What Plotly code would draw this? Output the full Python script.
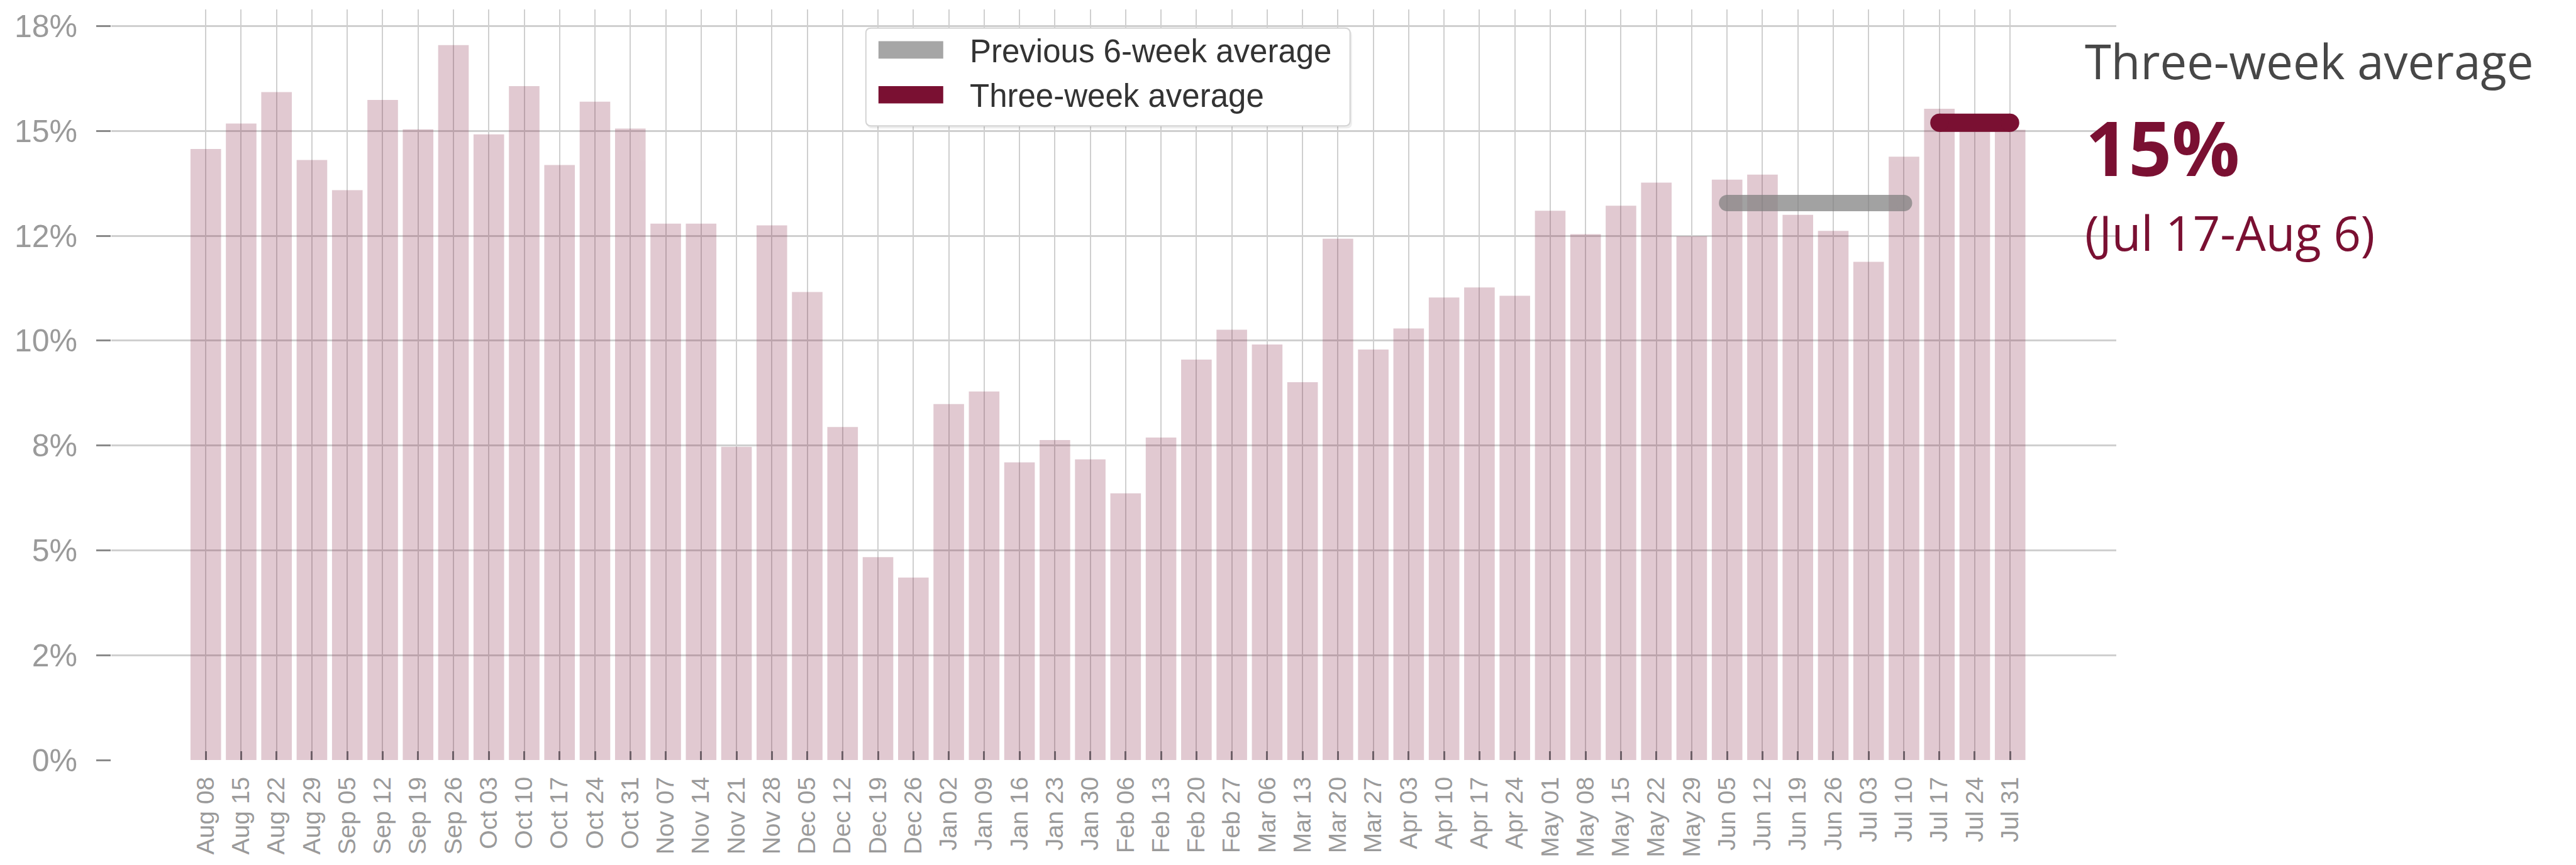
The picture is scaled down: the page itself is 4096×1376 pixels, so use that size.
import plotly.graph_objects as go

# ---------------- data ----------------
weeks = ["Aug 08", "Aug 15", "Aug 22", "Aug 29", "Sep 05", "Sep 12", "Sep 19", "Sep 26",
         "Oct 03", "Oct 10", "Oct 17", "Oct 24", "Oct 31", "Nov 07", "Nov 14", "Nov 21",
         "Nov 28", "Dec 05", "Dec 12", "Dec 19", "Dec 26", "Jan 02", "Jan 09", "Jan 16",
         "Jan 23", "Jan 30", "Feb 06", "Feb 13", "Feb 20", "Feb 27", "Mar 06", "Mar 13",
         "Mar 20", "Mar 27", "Apr 03", "Apr 10", "Apr 17", "Apr 24", "May 01", "May 08",
         "May 15", "May 22", "May 29", "Jun 05", "Jun 12", "Jun 19", "Jun 26", "Jul 03",
         "Jul 10", "Jul 17", "Jul 24", "Jul 31"]
share = [14.57, 15.18, 15.93, 14.31, 13.59, 15.74, 15.04, 17.05,
         14.92, 16.07, 14.19, 15.70, 15.06, 12.79, 12.79, 7.47,
         12.75, 11.16, 7.94, 4.84, 4.35, 8.49, 8.79, 7.10,
         7.63, 7.17, 6.36, 7.69, 9.55, 10.26, 9.91, 9.01,
         12.43, 9.79, 10.29, 11.03, 11.27, 11.07, 13.10, 12.54,
         13.22, 13.77, 12.49, 13.84, 13.96, 13.00, 12.62, 11.88,
         14.39, 15.53, 15.03, 15.03]
prev_weeks = weeks[43:49]      # Jun 05 .. Jul 10
prev_vals = share[43:49]
recent_weeks = weeks[49:52]    # Jul 17 .. Jul 31
recent_vals = share[49:52]
prev_avg = sum(prev_vals) / len(prev_vals)
recent_avg = sum(recent_vals) / len(recent_vals)

y_tickvals = [0, 2.5, 5, 7.5, 10, 12.5, 15, 17.5]
y_ticktext = ["0%", "2%", "5%", "8%", "10%", "12%", "15%", "18%"]

legend_labels = ["Previous 6-week average", "Three-week average"]
side_title = "Three-week average"
side_value = "15%"
side_period = "(Jul 17-Aug 6)"

# ---------------- styling / layout geometry ----------------
MAROON = "#7a1032"
FIG_W, FIG_H = 4096, 1376
L, R, T, B = 177, 3365.5, 15, 1220
W, H = R - L, B - T


def px(x):
    return (x - L) / W


def py(y):
    return (B - y) / H


fig = go.Figure()

fig.add_trace(go.Bar(
    x=weeks, y=share,
    marker=dict(color=MAROON, line=dict(width=0)),
    opacity=0.22,
    width=0.864,
    showlegend=False,
    hoverinfo="x+y",
))

fig.add_trace(go.Scatter(
    x=[prev_weeks[0], prev_weeks[-1]], y=[prev_avg, prev_avg],
    mode="lines+markers",
    line=dict(color="#7f7f7f", width=26),
    marker=dict(color="#7f7f7f", size=26, line=dict(width=0)),
    opacity=0.72,
    showlegend=False,
))

fig.add_trace(go.Scatter(
    x=[recent_weeks[0], recent_weeks[-1]], y=[recent_avg, recent_avg],
    mode="lines+markers",
    line=dict(color=MAROON, width=29),
    marker=dict(color=MAROON, size=29, line=dict(width=0)),
    showlegend=False,
))

# ---------------- custom legend ----------------
def rounded_rect(x0, y0, x1, y1, r):
    rx = r / W
    ry = r / H
    X0, X1 = px(x0), px(x1)
    Y0, Y1 = py(y0), py(y1)  # Y0 top (larger), Y1 bottom
    return (f"M {X0+rx},{Y0} L {X1-rx},{Y0} Q {X1},{Y0} {X1},{Y0-ry} "
            f"L {X1},{Y1+ry} Q {X1},{Y1} {X1-rx},{Y1} "
            f"L {X0+rx},{Y1} Q {X0},{Y1} {X0},{Y1+ry} "
            f"L {X0},{Y0-ry} Q {X0},{Y0} {X0+rx},{Y0} Z")


shapes = []
# shadow
shapes.append(dict(type="path", xref="paper", yref="paper",
                   path=rounded_rect(1379, 48, 2150, 206, 8),
                   fillcolor="rgba(0,0,0,0.07)", line=dict(width=0), layer="above"))
shapes.append(dict(type="path", xref="paper", yref="paper",
                   path=rounded_rect(1377, 45, 2147, 202, 8),
                   fillcolor="white", line=dict(color="#d4d4d4", width=2), layer="above"))
shapes.append(dict(type="rect", xref="paper", yref="paper",
                   x0=px(1397), x1=px(1500), y0=py(94), y1=py(66),
                   fillcolor="#a6a6a6", line=dict(width=0), layer="above"))
shapes.append(dict(type="rect", xref="paper", yref="paper",
                   x0=px(1397), x1=px(1500), y0=py(166), y1=py(138),
                   fillcolor=MAROON, line=dict(width=0), layer="above"))

annotations = []
for label, yc in zip(legend_labels, [82, 154]):
    annotations.append(dict(
        x=px(1540), y=py(yc), xref="paper", yref="paper",
        xanchor="left", yanchor="middle", showarrow=False,
        text=label, font=dict(family="Liberation Sans, Arial", size=51, color="#333333")))

# ---------------- side annotation ----------------
annotations.append(dict(
    x=px(3313), y=py(97), xref="paper", yref="paper",
    xanchor="left", yanchor="middle", showarrow=False,
    text=side_title, font=dict(family="Open Sans", size=76, color="#474747")))
annotations.append(dict(
    x=px(3314), y=py(236), xref="paper", yref="paper",
    xanchor="left", yanchor="middle", showarrow=False,
    text=f"<b>{side_value}</b>", font=dict(family="Open Sans", size=120, color=MAROON)))
annotations.append(dict(
    x=px(3313), y=py(373), xref="paper", yref="paper",
    xanchor="left", yanchor="middle", showarrow=False,
    text=side_period, font=dict(family="Open Sans", size=76, color=MAROON)))

fig.update_layout(
    width=FIG_W, height=FIG_H,
    margin=dict(l=L, r=FIG_W - R, t=T, b=FIG_H - B, pad=0),
    paper_bgcolor="white", plot_bgcolor="white",
    bargap=0.136,
    shapes=shapes,
    annotations=annotations,
    showlegend=False,
    font=dict(family="Liberation Sans, Arial"),
)

fig.update_xaxes(
    type="category",
    range=[-2.67, 54.0],
    showgrid=True, gridcolor="#cfcfcf", gridwidth=2,
    ticks="inside", ticklen=14, tickwidth=2.5, tickcolor="#6e6068",
    tickangle=-90,
    tickfont=dict(family="Liberation Sans, Arial", size=39, color="#9a9a9a"),
    ticklabelstandoff=18,
    showline=False, zeroline=False,
)

fig.update_yaxes(
    range=[0, 17.9],
    tickvals=y_tickvals, ticktext=y_ticktext,
    showgrid=True, gridcolor="#cfcfcf", gridwidth=2.5,
    ticks="outside", ticklen=23, tickwidth=2.5, tickcolor="#8a8a8a",
    tickfont=dict(family="Liberation Sans, Arial", size=50, color="#9a9a9a"),
    ticklabelstandoff=20,
    showline=False, zeroline=False,
)

fig.write_html("out.html")
